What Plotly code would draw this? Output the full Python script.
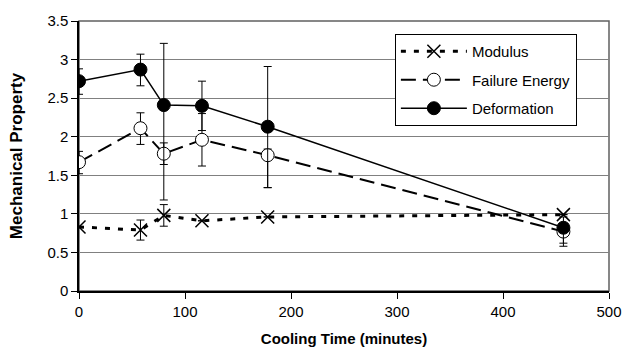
import plotly.graph_objects as go

time = [0, 58, 80, 116, 178, 457]
modulus = [0.83, 0.79, 0.98, 0.91, 0.96, 0.99]
modulus_err_plus = [0.0, 0.13, 0.14, 0.0, 0.0, 0.0]
modulus_err_minus = [0.0, 0.13, 0.14, 0.0, 0.0, 0.0]
failure = [1.67, 2.11, 1.78, 1.96, 1.76, 0.77]
failure_err_plus = [0.14, 0.20, 0.14, 0.34, 0.08, 0.19]
failure_err_minus = [0.15, 0.21, 0.14, 0.34, 0.42, 0.19]
deformation = [2.72, 2.87, 2.41, 2.40, 2.13, 0.82]
deformation_err_plus = [0.16, 0.20, 0.80, 0.32, 0.78, 0.05]
deformation_err_minus = [0.17, 0.21, 1.23, 0.32, 0.79, 0.20]

FONT = "Liberation Sans, Arial, sans-serif"

def err(p, m):
    return dict(type="data", array=p, arrayminus=m, symmetric=False,
                color="black", thickness=1, width=4, visible=True)

fig = go.Figure()
fig.add_trace(go.Scatter(
    x=time, y=modulus, name="Modulus", mode="lines+markers",
    line=dict(color="black", width=3, dash="5px,8px"),
    marker=dict(symbol="x-thin-open", size=13, color="black", line=dict(width=1.5, color="black")),
    error_y=err(modulus_err_plus, modulus_err_minus), legendgroup="a"))
fig.add_trace(go.Scatter(
    x=time, y=failure, name="Failure Energy", mode="lines+markers",
    line=dict(color="black", width=2, dash="15px,7px"),
    marker=dict(symbol="circle", size=13, color="white", line=dict(width=1, color="black")),
    error_y=err(failure_err_plus, failure_err_minus), legendgroup="b"))
fig.add_trace(go.Scatter(
    x=time, y=deformation, name="Deformation", mode="lines+markers",
    line=dict(color="black", width=1.5),
    marker=dict(symbol="circle", size=13, color="black", line=dict(width=1, color="black")),
    error_y=err(deformation_err_plus, deformation_err_minus), legendgroup="c"))

fig.add_shape(type="rect", xref="paper", yref="paper", x0=0, y0=0, x1=1, y1=1,
              line=dict(color="#606060", width=1.5), layer="below")

fig.update_layout(
    width=626, height=353,
    margin=dict(l=79, r=17, t=21, b=62),
    paper_bgcolor="white", plot_bgcolor="white",
    font=dict(family=FONT, size=15, color="black"),
    showlegend=True,
    legend=dict(x=0.596, y=0.952, xanchor="left", yanchor="top",
                bgcolor="white", bordercolor="black", borderwidth=1,
                font=dict(size=15, family=FONT), tracegroupgap=6,
                traceorder="grouped", itemwidth=66),
    xaxis=dict(range=[0, 500], tickvals=[0, 100, 200, 300, 400, 500],
               showgrid=False, zeroline=False, showline=True, automargin=False,
               linecolor="black", linewidth=1.5, ticks="outside",
               ticklen=6, tickcolor="black",
               tickfont=dict(size=15, family=FONT),
               title=dict(text="<b>Cooling Time (minutes)</b>",
                          font=dict(size=15, family=FONT), standoff=15)),
    yaxis=dict(range=[0, 3.5], tickvals=[0, 0.5, 1, 1.5, 2, 2.5, 3, 3.5],
               ticktext=["0", "0.5", "1", "1.5", "2", "2.5", "3", "3.5"],
               showgrid=True, gridcolor="#808080", gridwidth=1,
               zeroline=False, showline=True, automargin=False,
               linecolor="black", linewidth=1.5, ticks="outside",
               ticklen=6, tickcolor="black",
               tickfont=dict(size=15, family=FONT),
               title=dict(text="<b>Mechanical Property</b>",
                          font=dict(size=17, family=FONT), standoff=20)),
)

fig.write_html("out.html")
